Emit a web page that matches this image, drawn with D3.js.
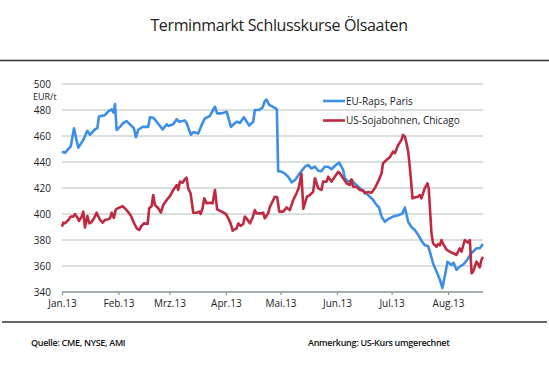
<!DOCTYPE html>
<html><head><meta charset="utf-8">
<script src="https://cdn.jsdelivr.net/npm/d3@7"></script>
<style>
html,body{margin:0;padding:0;background:#fff;}
svg{display:block;font-family:"Open Sans",sans-serif;}
</style></head>
<body><svg id="c" width="549" height="375"></svg>
<script>
// Data: days after 1 Jan 2013, closing prices in EUR/t
const rapsDays = [0,1.6,4.8,6.6,8.9,11.7,13.9,15.4,18.1,19.4,20.3,21.8,23.6,25.4,27.3,28.3,29.1,30.0,31.8,33.6,35.5,37.3,39.5,40.6,41.9,44.3,47.4,48.3,50.1,52.0,55.3,57.5,58.3,61.1,63.0,64.2,67.5,68.4,70.8,72.1,74.8,76.7,78.5,81.2,84.0,85.2,87.7,90.4,92.8,95.0,96.2,97.7,99.9,102.8,105.0,105.9,108.3,110.2,111.4,112.3,113.8,116.4,118.0,118.7,120.6,122.4,124.2,126.1,127.9,130.6,133.4,135.2,137.0,138.9,140.7,142.5,144.3,146.2,148.0,150.4,152.2,154.4,155.3,157.1,159.0,160.8,163.6,166.3,168.1,170.9,172.7,174.1,175.5,177.3,179.1,181.8,184.6,187.0,188.3,190.1,191.9,193.7,195.6,197.4,199.2,201.0,202.0,203.8,205.7,207.5,208.9,210.2,211.7,213.9,215.1,216.6,218.4,220.3,222.4,224.9,227.6,229.4,231.2];
const rapsValues = [448,447,452,466,451,457,464,461,465,466,475,475.5,476,479,480.5,478,484.5,464.6,467,470,471.5,469,466,459,465,467,467,474.4,474,471,465,469,467.7,469,473,471,472,470,461,463,462,468.5,473.6,475.4,482.5,477.4,477.4,478.7,467,470,471,470,474.4,468,471,480,480,482,487,488,484,482,480.5,433,432.5,431,428.7,424.4,426,431.3,436.4,437.7,435,436.4,433.3,433,436.4,436.4,434.4,437.7,439.5,434,427.5,425,426,423.6,419.8,417,414.6,410.8,407,405,398,394,396,398,399,400.5,405,394,390,387.7,384,379.5,376,375.4,371,362,355.6,349.7,343,352,363.3,360.8,362.5,357,359.5,361,364.6,370,373.6,373.6,377];

const sojaDays = [0,0.7,1.6,3.5,4.8,6.2,7.1,8.4,9.3,10.8,11.7,12.6,13.9,15.0,16.3,17.6,19.0,20.9,22.3,23.6,25.4,26.3,27.3,28.5,29.6,31.4,33.3,35.5,37.7,39.5,41.0,42.4,43.7,45.0,47.0,47.9,49.2,50.1,51.0,52.9,54.3,55.6,57.5,59.3,61.1,63.0,63.8,64.8,66.2,67.5,68.4,69.3,70.6,72.1,73.9,75.4,76.1,77.2,78.1,79.4,81.2,82.7,84.0,85.2,87.7,90.0,91.3,92.6,93.7,95.9,96.8,98.1,99.5,100.4,101.7,103.2,104.7,105.9,106.8,109.6,110.5,111.4,113.2,114.2,115.6,116.9,118.2,119.3,121.5,123.3,125.1,127.0,128.8,130.0,131.5,132.5,134.5,136.1,137.9,138.9,140.7,142.5,143.4,145.3,146.2,148.0,149.8,151.7,152.6,154.4,156.3,158.1,159.0,159.9,161.7,163.6,165.4,166.3,168.1,170.0,171.8,173.6,175.5,176.3,178.2,180.0,181.8,182.8,184.6,186.4,187.3,188.3,189.2,190.1,191.0,192.5,193.7,195.6,196.5,197.4,199.2,200.7,201.4,202.9,203.8,205.7,206.5,207.5,208.4,209.3,211.1,212.9,214.7,216.6,218.4,219.4,221.2,223.0,224.0,224.9,225.8,227.6,228.5,229.4,230.3,231.2];
const sojaValues = [390.3,393.3,392.8,395.4,398,398,400,397.4,394.6,398,401.8,389.7,398.5,392.8,394,396.7,401,395.4,393.3,395.4,396,396.7,401,397,403.6,404.9,406,403,399,393.3,389,387.7,390.8,392.8,392.3,404.4,406,414.6,407,404.4,401,407,410.8,413.8,418.5,422.3,418.5,424.9,424,426.7,428,419.7,416,401,401,401.8,400,404.4,412,408.2,408.7,408.2,418.5,403.6,401.8,400,396.7,392.8,387.2,389,392.8,390.8,392.3,398,396,392.8,397.3,403,400.5,400.5,401,396.7,400.5,405.6,409.5,413.3,412.8,401.8,401.8,405,403,410.8,416,420,431,404,413.3,414.6,417,427.5,419.8,418.5,424.9,424.9,428.7,424.9,428.7,432.5,431.3,427.5,423.6,422.3,426.7,421,421,418.5,418,416,417,416.4,419.8,424.9,431.3,439,441.5,443.6,448,446.7,453,457,460.8,459.5,454.4,448,436.4,412,412.8,413.3,414.6,412,419.8,423.6,419.8,385,377.4,374.8,376.9,376,380,377,372.8,371,369.8,368.5,373.6,371,380,378,380,354.4,355.6,363.3,361.5,359,364.6,367];

const yTicks = [340,360,380,400,420,440,460,480,500];
const monthLabels = ["Jan.13","Feb.13","Mrz.13","Apr.13","Mai.13","Jun.13","Jul.13","Aug.13"];
const seriesNames = ["EU-Raps, Paris","US-Sojabohnen, Chicago"];
const colors = ["#3d8ee6","#bf2a40"];

const svg = d3.select("#c");
const start = new Date(2013,0,1);
const toDate = d => new Date(start.getTime() + d*864e5);

const x = d3.scaleTime().domain([start, toDate(231.2)]).range([62,483]);
const y = d3.scaleLinear().domain([340,500]).range([292,84]);

// title
svg.append("text").attr("x",279).attr("y",31).attr("text-anchor","middle")
  .attr("font-size",16).attr("letter-spacing",-0.35).attr("fill","#222").text("Terminmarkt Schlusskurse Ölsaaten");
svg.append("line").attr("x1",0).attr("x2",549).attr("y1",60.5).attr("y2",60.5)
  .attr("stroke","#333").attr("stroke-width",1.6);
svg.append("line").attr("x1",2).attr("x2",547).attr("y1",322).attr("y2",322)
  .attr("stroke","#333").attr("stroke-width",1.6);

// gridlines
svg.append("g").selectAll("line").data(yTicks.slice(1)).join("line")
  .attr("x1",62).attr("x2",483).attr("y1",d=>y(d)).attr("y2",d=>y(d))
  .attr("stroke","#cdd6d1").attr("stroke-width",1.4);

// y labels
svg.append("g").selectAll("text").data(yTicks).join("text")
  .attr("x",51).attr("y",d=>y(d)).attr("dy","0.35em").attr("text-anchor","end")
  .attr("font-size",10).attr("fill","#222").text(d=>d);
svg.append("text").attr("x",33).attr("y",96.5).attr("dy","0.35em")
  .attr("font-size",9).attr("fill","#222").text("EUR/t");

// x axis
const months = d3.timeMonth.range(start, new Date(2013,7,2));
const xAxis = d3.axisBottom(x).tickValues(months).tickSize(3)
  .tickFormat((d,i)=>monthLabels[i]);
const gx = svg.append("g").attr("transform","translate(0,292)").call(xAxis);
gx.select(".domain").attr("stroke","#8a9590").attr("stroke-width",1.4).attr("d","M62,0H483");
gx.selectAll(".tick line").attr("stroke","#8a9590").attr("stroke-width",1.2);
gx.selectAll(".tick text").attr("font-size",10).attr("fill","#222").attr("y",11).attr("dy","0.35em")
  .attr("font-family","Open Sans");

// lines
const line = d3.line().x(d=>x(d[0])).y(d=>y(d[1]));
const raps = rapsDays.map((d,i)=>[toDate(d), rapsValues[i]]);
const soja = sojaDays.map((d,i)=>[toDate(d), sojaValues[i]]);
svg.append("path").datum(raps).attr("d",line).attr("fill","none")
  .attr("stroke",colors[0]).attr("stroke-width",2.6).attr("stroke-linejoin","round");
svg.append("path").datum(soja).attr("d",line).attr("fill","none")
  .attr("stroke",colors[1]).attr("stroke-width",2.6).attr("stroke-linejoin","round");

// legend
const lg = svg.append("g").selectAll("g").data(seriesNames).join("g")
  .attr("transform",(d,i)=>`translate(323,${101+i*19.5})`);
lg.append("line").attr("x1",0).attr("x2",22).attr("stroke",(d,i)=>colors[i]).attr("stroke-width",2.6);
lg.append("text").attr("x",23).attr("dy","0.35em").attr("font-size",10).attr("fill","#222").text(d=>d);

// footer
svg.append("text").attr("x",31).attr("y",343).attr("dy","0.35em").attr("font-size",9)
  .attr("font-weight",600).attr("fill","#111").attr("letter-spacing",-0.3).text("Quelle: CME, NYSE, AMI");
svg.append("text").attr("x",308).attr("y",343).attr("dy","0.35em").attr("font-size",9)
  .attr("font-weight",600).attr("fill","#111").attr("letter-spacing",-0.3).text("Anmerkung: US-Kurs umgerechnet");
</script></body></html>
